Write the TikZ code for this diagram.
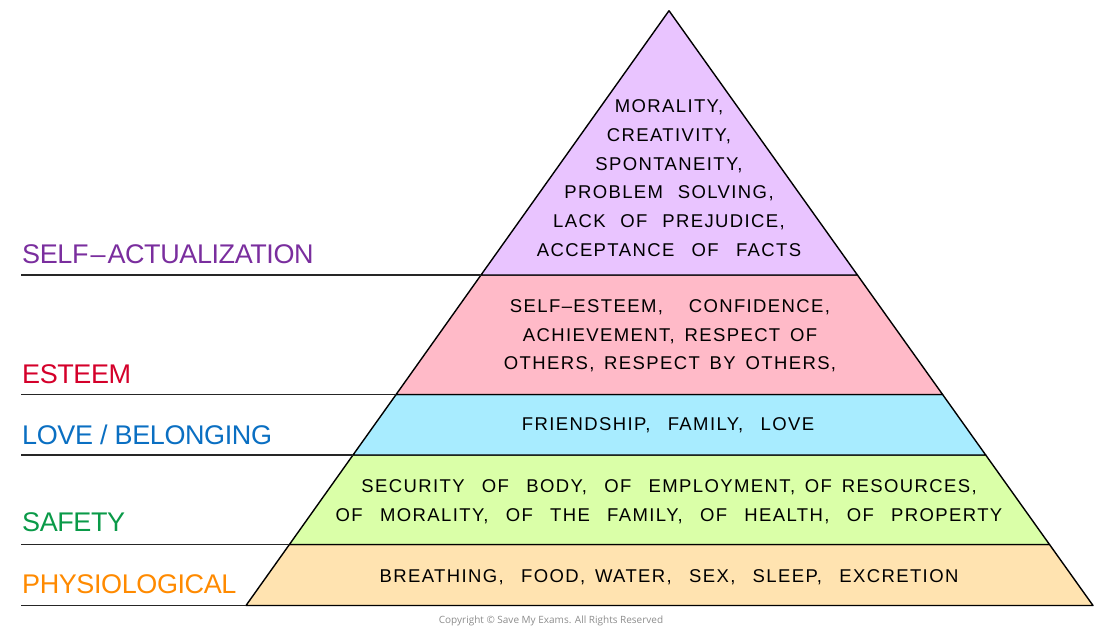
\documentclass[tikz,border=0pt]{standalone}
\usepackage{fontspec}
\setmainfont{Liberation Sans}
\newfontfamily\bodyfont[LetterSpace=7.5,WordSpace=1.5]{Liberation Sans}
\newfontfamily\labelfont[LetterSpace=-1.5]{Liberation Sans}
\newfontfamily\copyfont{Open Sans}
\newcommand{\WS}{\hspace*{7.5pt}\ }
\newcommand{\HS}{\hspace*{5pt}\ }
\definecolor{cPurpleFill}{HTML}{E9C4FF}
\definecolor{cPinkFill}{HTML}{FFBAC8}
\definecolor{cCyanFill}{HTML}{A8ECFF}
\definecolor{cGreenFill}{HTML}{DAFFA8}
\definecolor{cOrangeFill}{HTML}{FFE3B0}
\definecolor{cPurple}{HTML}{7A2E9E}
\definecolor{cRed}{HTML}{D4002A}
\definecolor{cBlue}{HTML}{0A6FC2}
\definecolor{cGreen}{HTML}{0A9A48}
\definecolor{cOrange}{HTML}{FF8A00}
\tikzset{
  layer/.style={draw=black, line width=1.4pt, line join=round},
  rule/.style={draw=black!85, line width=1.4pt},
  body/.style={align=center, inner sep=0pt, font=\bodyfont\fontsize{18.5}{28.7}\selectfont, text=black},
  lvl/.style={anchor=base west, inner sep=0pt, font=\labelfont\fontsize{27}{30}\selectfont},
}
\begin{document}
\begin{tikzpicture}[x=1pt,y=-1pt]
\useasboundingbox (0,0) rectangle (1100,630);
% vertices
\coordinate (A) at (669,10.7);
\coordinate (L1) at (481.0,275);   \coordinate (R1) at (857.4,275);
\coordinate (L2) at (396.1,394.5); \coordinate (R2) at (942.6,394.5);
\coordinate (L3) at (353.0,455);   \coordinate (R3) at (985.7,455);
\coordinate (L4) at (289.4,544.5); \coordinate (R4) at (1049.5,544.5);
\coordinate (L5) at (246,605.5);   \coordinate (R5) at (1093,605.5);
% layers
\path[layer, fill=cOrangeFill] (L4) -- (R4) -- (R5) -- (L5) -- cycle;
\path[layer, fill=cGreenFill] (L3) -- (R3) -- (R4) -- (L4) -- cycle;
\path[layer, fill=cCyanFill] (L2) -- (R2) -- (R3) -- (L3) -- cycle;
\path[layer, fill=cPinkFill] (L1) -- (R1) -- (R2) -- (L2) -- cycle;
\path[layer, fill=cPurpleFill] (A) -- (R1) -- (L1) -- cycle;
% left rules
\coordinate (S1) at (21,275);
\coordinate (S2) at (21,394.5);
\coordinate (S3) at (21,455);
\coordinate (S4) at (21,544.5);
\coordinate (S5) at (21,605.5);
\draw[rule] (S1) -- (L1);
\draw[rule] (S2) -- (L2);
\draw[rule] (S3) -- (L3);
\draw[rule] (S4) -- (L4);
\draw[rule] (S5) -- (L5);
% level labels
\node[lvl, text=cPurple] (tSA) at (22,263) {SELF\kern2pt–\kern2pt ACTUALIZATION};
\node[lvl, text=cRed] (tES) at (22,383) {ESTEEM};
\node[lvl, text=cBlue] (tLB) at (22,444) {LOVE / BELONGING};
\node[lvl, text=cGreen] (tSF) at (22,531) {SAFETY};
\node[lvl, text=cOrange] (tPH) at (22,593) {PHYSIOLOGICAL};
% contents
\node[body] (cSA) at (669,178) {MORALITY,\\CREATIVITY,\\SPONTANEITY,\\PROBLEM\HS SOLVING,\\LACK\HS OF\HS PREJUDICE,\\ACCEPTANCE\WS OF\WS FACTS};
\node[body] (cES) at (670,336) {SELF–ESTEEM,\hspace*{16pt}\ CONFIDENCE,\\ACHIEVEMENT, RESPECT OF\\OTHERS, RESPECT BY OTHERS,};
\node[body] (cLB) at (668,425) {FRIENDSHIP,\WS FAMILY,\WS LOVE};
\node[body] (cSF) at (669,502) {SECURITY\WS OF\WS BODY,\WS OF\WS EMPLOYMENT, OF RESOURCES,\\OF\WS MORALITY,\WS OF\WS THE\WS FAMILY,\WS OF\WS HEALTH,\WS OF\WS PROPERTY};
\node[body] (cPH) at (669,577) {BREATHING,\WS FOOD, WATER,\WS SEX,\WS SLEEP,\WS EXCRETION};
% copyright
\node[inner sep=0pt, font=\copyfont\fontsize{10}{12}\selectfont, text=black!45] (cp) at (551,621) {Copyright © Save My Exams. All Rights Reserved};
\end{tikzpicture}
\end{document}
